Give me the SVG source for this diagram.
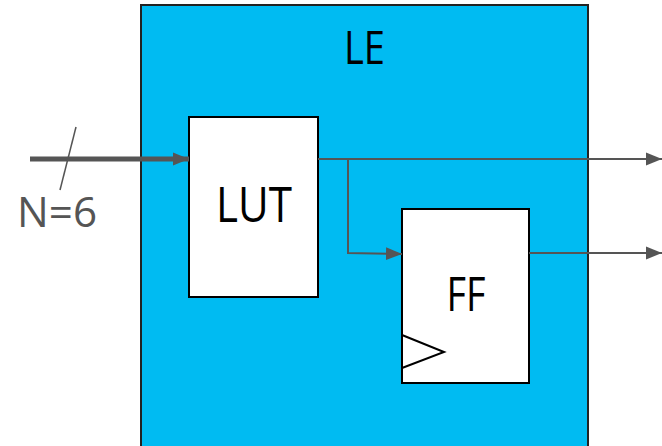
<svg xmlns="http://www.w3.org/2000/svg" width="662" height="446" viewBox="0 0 662 446">
<style>
.box{fill:#fff;stroke:#000;stroke-width:2}
.lbl{font-family:"Open Sans","Noto Sans",sans-serif;fill:#000;text-anchor:middle}
.wire{fill:none;stroke:#555;stroke-width:2}
</style>
<defs>
<marker id="ah2" viewBox="0 0 10 10" refX="10" refY="5" markerWidth="16" markerHeight="16" orient="auto" markerUnits="userSpaceOnUse"><path d="M0,1 L10,5 L0,9 z" fill="#555"/></marker>
</defs>
<g id="le">
<rect x="141" y="5" width="447" height="460" fill="#00BBF2" stroke="#222" stroke-width="2"/>
<text class="lbl" x="364.5" y="64" font-size="46" textLength="41" lengthAdjust="spacingAndGlyphs">LE</text>
</g>
<g id="lut">
<rect class="box" x="189" y="117" width="129" height="180"/>
<text class="lbl" x="254" y="222" font-size="49" textLength="76" lengthAdjust="spacingAndGlyphs">LUT</text>
</g>
<g id="ff">
<rect class="box" x="402" y="209" width="127" height="174"/>
<polyline points="402,335 444,352 402,368" fill="none" stroke="#000" stroke-width="2"/>
<text class="lbl" x="466" y="311" font-size="48" textLength="39" lengthAdjust="spacingAndGlyphs">FF</text>
</g>
<g id="connectors">
<line x1="30" y1="159" x2="189" y2="159" stroke="#555" stroke-width="5" marker-end="url(#ah2)"/>
<line x1="76" y1="127" x2="60" y2="190" stroke="#555" stroke-width="1.5"/>
<line class="wire" x1="318" y1="159" x2="662" y2="159" marker-end="url(#ah2)"/>
<polyline class="wire" points="348,159 348,253 402,254" marker-end="url(#ah2)"/>
<line class="wire" x1="529" y1="253" x2="662" y2="253" marker-end="url(#ah2)"/>
</g>
<text x="17" y="227" font-family="Open Sans,Noto Sans,sans-serif" font-size="42" fill="#555" textLength="80" lengthAdjust="spacingAndGlyphs">N=6</text>
</svg>
